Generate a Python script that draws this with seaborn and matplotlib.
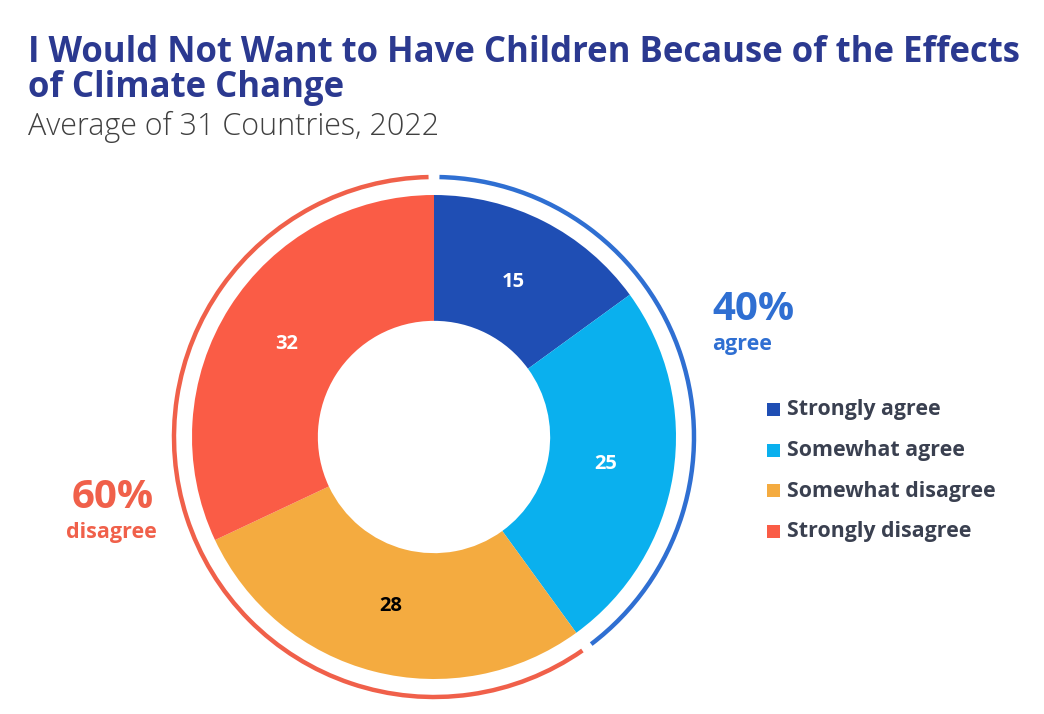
import matplotlib
import numpy as np
import seaborn as sns

matplotlib.use("Agg")
import matplotlib.pyplot as plt
from matplotlib.patches import Arc, Rectangle

categories = ["Strongly agree", "Somewhat agree", "Somewhat disagree", "Strongly disagree"]
values = [15, 25, 28, 32]
group_names = ["agree", "disagree"]
group_shares = [40, 60]

colors = ["#1F4EB4", "#0AB0EE", "#F4AB40", "#FA5C46"]
ring_colors = ["#2F6FD2", "#F0604A"]
label_colors = ["white", "white", "black", "white"]

sns.set_theme(style="white")
plt.rcParams["font.family"] = ["Open Sans", "DejaVu Sans"]

W, H = 1044, 714
fig = plt.figure(figsize=(W / 100, H / 100), dpi=100)

# overlay axes in pixel coords for text / legend
over = fig.add_axes([0, 0, 1, 1])
over.set_xlim(0, W)
over.set_ylim(H, 0)
over.axis("off")

# ── donut ────────────────────────────────────────────────────────────────
cx, cy, r_px = 434, 437, 242
half = 275
ax = fig.add_axes([(cx - half) / W, 1 - (cy + half) / H, 2 * half / W, 2 * half / H])
lim = half / r_px

wedges, texts = ax.pie(
    values,
    colors=colors,
    startangle=90,
    counterclock=False,
    labels=[str(v) for v in values],
    labeldistance=0.72,
    wedgeprops=dict(width=0.52, linewidth=0),
    textprops=dict(fontsize=14.5, fontweight="bold", ha="center", va="center"),
    radius=1.0,
)
for t, c in zip(texts, label_colors):
    t.set_color(c)
ax.set_xlim(-lim, lim)
ax.set_ylim(-lim, lim)
ax.set_aspect("equal")
ax.axis("off")

# outer ring arcs for agree / disagree groups
ring_r = 260 / r_px
gap = 1.2
start = 90.0
for share, rc in zip(group_shares, ring_colors):
    end = start - share * 3.6
    ax.add_patch(Arc((0, 0), 2 * ring_r, 2 * ring_r, theta1=end + gap, theta2=start - gap,
                     color=rc, linewidth=3.2))
    start = end

# ── titles ───────────────────────────────────────────────────────────────
title_color = "#2B3990"
over.text(28, 62, "I Would Not Want to Have Children Because of the Effects",
          fontsize=25, fontweight="bold", color=title_color, va="baseline", ha="left")
over.text(28, 97, "of Climate Change",
          fontsize=25, fontweight="bold", color=title_color, va="baseline", ha="left")
over.text(28, 135, "Average of 31 Countries, 2022",
          fontsize=22, fontweight="light", color="#404040", va="baseline", ha="left")

# ── group annotations ────────────────────────────────────────────────────
over.text(712, 320, f"{group_shares[0]}%", fontsize=29, fontweight="bold",
          color=ring_colors[0], va="baseline", ha="left")
over.text(712, 350, group_names[0], fontsize=15.5, fontweight="bold",
          color=ring_colors[0], va="baseline", ha="left")
over.text(113, 508, f"{group_shares[1]}%", fontsize=29, fontweight="bold",
          color=ring_colors[1], va="baseline", ha="center")
over.text(111, 538, group_names[1], fontsize=15.5, fontweight="bold",
          color=ring_colors[1], va="baseline", ha="center")

# ── legend ───────────────────────────────────────────────────────────────
for i, (cat, col) in enumerate(zip(categories, colors)):
    y = 410 + i * 40.5
    over.add_patch(Rectangle((767, y - 7), 13, 13, color=col, linewidth=0))
    over.text(787, y, cat, fontsize=15.4, fontweight="bold", color="#3A4050",
              va="center", ha="left")

fig.savefig("out.png", dpi=100)
plt.close(fig)
